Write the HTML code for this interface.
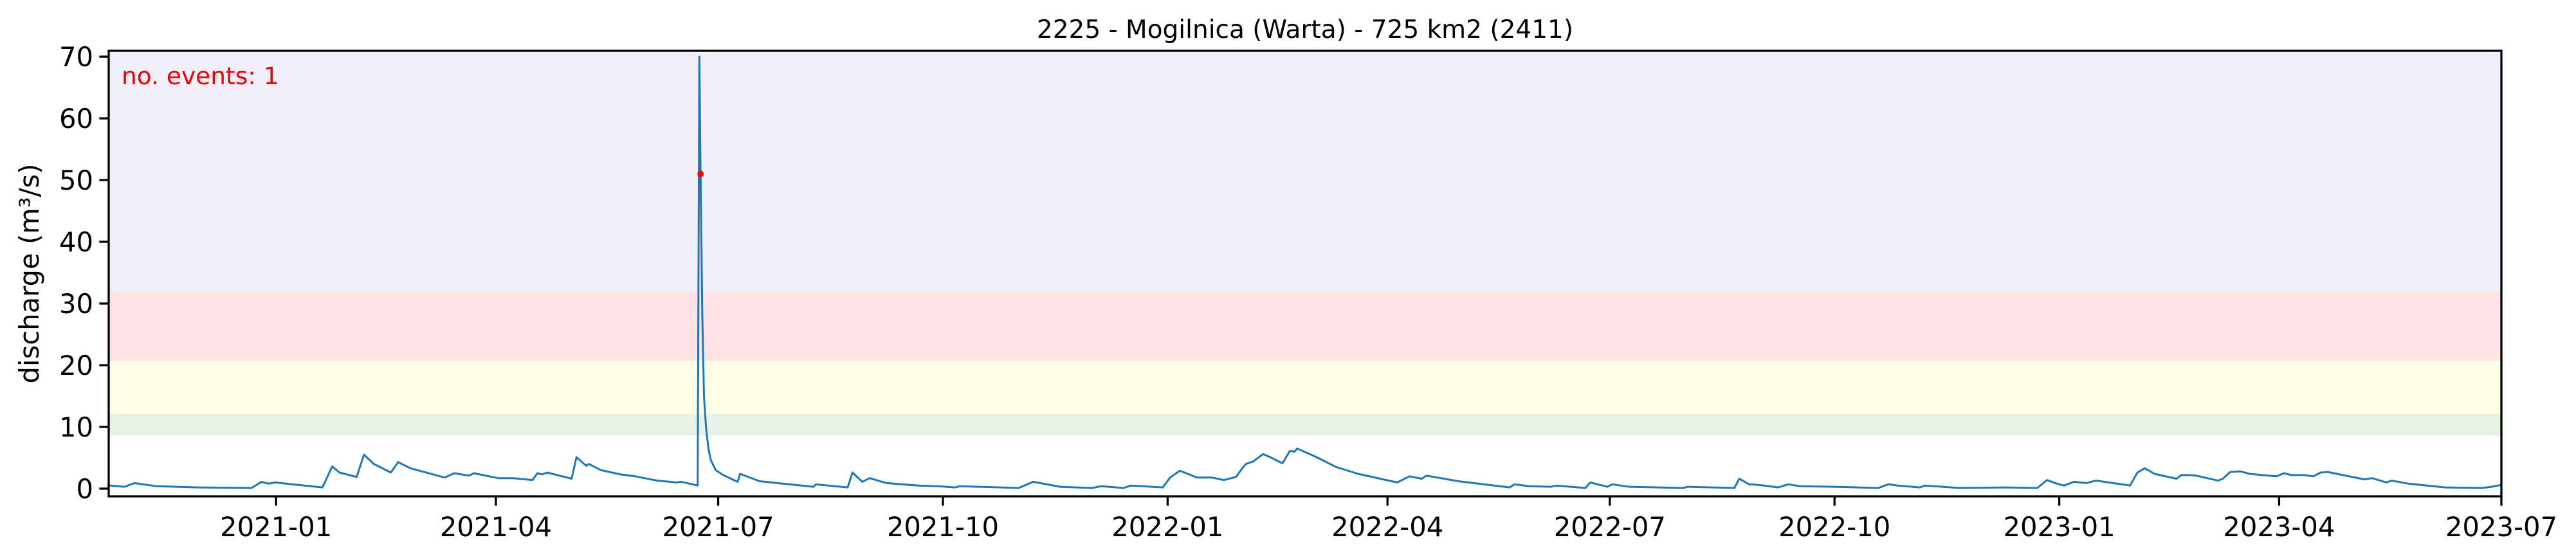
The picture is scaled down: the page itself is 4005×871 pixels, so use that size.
<!DOCTYPE html>
<html><head><meta charset="utf-8">
<style>
html,body{margin:0;padding:0;background:#fff;}
svg{display:block;font-family:"DejaVu Sans","Liberation Sans",sans-serif;}
</style></head>
<body>
<svg id="chart" width="4005" height="871" viewBox="0 0 4005 871" xmlns="http://www.w3.org/2000/svg"></svg>
<script>
// ---- data (days relative to 2021-01-01) ----
const days = [-69,-62,-58,-49,-32,-10,-6,-3,-0.5,19,23,26,33,36,40,47,50,55,69,73,79,81,91,97,105,107,109,111,121,123,127,128,133,141,147,156,164,166,172.6,173.3,173.8,174.5,175.2,176,177,178,180,183,189,190,198,220,221,234,236,240,243,250,263,271,278,280,304,310,321,334,338,347,350,363,366,370,377,383,388,393,395,397,400,404,407,412,415,417,418,426,434,443,459,464,469,471,484,505,507,513,522,524,536,538,545,547,554,576,578,597,599,603,607,615,619,624,638,656,660,664,673,675,679,689,708,721,725,729,732,736,741,745,759,762,765,769,778,780,783,786,795,797,800,804,808,813,819,822,825,830,834,837,840,846,855,858,864,866,873,888,903,907,911];
const discharge = [0.55,0.3,0.9,0.4,0.2,0.1,1.1,0.8,1.0,0.2,3.6,2.6,1.9,5.5,4.0,2.6,4.3,3.3,1.8,2.5,2.1,2.5,1.7,1.7,1.4,2.5,2.3,2.6,1.6,5.1,3.7,4.0,3.0,2.3,2.0,1.3,1.0,1.1,0.5,70,51,28,15,10,6.5,4.6,3.0,2.2,1.1,2.4,1.2,0.3,0.7,0.2,2.6,1.1,1.7,0.9,0.5,0.4,0.2,0.4,0.1,1.1,0.3,0.1,0.4,0.1,0.5,0.2,1.8,2.9,1.8,1.8,1.4,1.9,3.0,4.0,4.4,5.6,5.1,4.1,6.1,6.0,6.5,5.1,3.5,2.4,1.0,2.0,1.6,2.1,1.2,0.2,0.7,0.4,0.3,0.5,0.1,1.0,0.3,0.7,0.3,0.1,0.3,0.1,1.6,0.7,0.6,0.2,0.7,0.4,0.3,0.1,0.7,0.5,0.2,0.5,0.4,0.1,0.2,0.1,1.4,0.8,0.5,1.1,0.9,1.3,0.5,2.6,3.3,2.4,1.6,2.2,2.2,2.1,1.3,1.6,2.7,2.8,2.4,2.2,2.0,2.5,2.2,2.2,2.0,2.6,2.7,2.2,1.5,1.7,1.0,1.3,0.8,0.2,0.1,0.3,0.6];
const eventDays = [173.8];
const eventValues = [51];
const bandLows = [8.6, 12.1, 20.7, 32.0];
const bandHighs = [12.1, 20.7, 32.0, 80];
const bandColors = ["#e5f2e5","#fefee6","#fde3e5","#f1eff9"];
const bandNames = ["band-green","band-yellow","band-red","band-purple"];
const yTicks = [0,10,20,30,40,50,60,70];
const xTickDays = [0,90,181,273,365,455,546,638,730,820,911];
const xTickLabels = ["2021-01","2021-04","2021-07","2021-10","2022-01","2022-04","2022-07","2022-10","2023-01","2023-04","2023-07"];

// ---- layout ----
const L=169, R=3889, T=79, B=772;
const xMin=-68.5, xMax=911, yMin=-1.25, yMax=70.95;
const xs = d => L + (d - xMin)/(xMax - xMin)*(R-L);
const ys = v => B - (v - yMin)/(yMax - yMin)*(B-T);
const NS="http://www.w3.org/2000/svg";
const svg=document.getElementById('chart');
function mk(tag, attrs, parent){const e=document.createElementNS(NS,tag);for(const k in attrs)e.setAttribute(k,attrs[k]);(parent||svg).appendChild(e);return e;}

bandLows.forEach((lo,i)=>{
  const top=Math.max(ys(bandHighs[i]),T), bot=ys(lo);
  const r=mk('rect',{x:L,y:top,width:R-L,height:bot-top,fill:bandColors[i]});
  
  
});

let d='';
days.forEach((dd,i)=>{d+=(i?'L':'M')+xs(dd).toFixed(1)+','+ys(discharge[i]).toFixed(1);});
const line=mk('path',{d:d,fill:'none',stroke:'#1f77b4','stroke-width':3,'stroke-linejoin':'round'});



eventDays.forEach((ed,i)=>{
  const c=mk('circle',{cx:xs(ed),cy:ys(eventValues[i]),r:5,fill:'#ff0000'});
  
  
});

const fr=mk('rect',{x:L,y:T,width:R-L,height:B-T,fill:'none',stroke:'#000','stroke-width':3.3});



yTicks.forEach(v=>{
  const y=ys(v);
  const t=mk('line',{x1:L-14.6,x2:L,y1:y,y2:y,stroke:'#000','stroke-width':3.3});
  
  
  const tx=mk('text',{x:L-24,y:y+15,'text-anchor':'end','font-size':41.7,fill:'#000'});
  tx.textContent=v;
  
  
});
xTickDays.forEach((dd,i)=>{
  const x=xs(dd);
  const t=mk('line',{x1:x,x2:x,y1:B,y2:B+14.6,stroke:'#000','stroke-width':3.3});
  
  
  const tx=mk('text',{x:x,y:B+62,'text-anchor':'middle','font-size':41.7,fill:'#000'});
  tx.textContent=xTickLabels[i];
  
  
});

const title=mk('text',{x:(L+R)/2,y:59,'text-anchor':'middle','font-size':39,fill:'#000'});
title.textContent='2225 - Mogilnica (Warta) - 725 km2 (2411)';


const yl=mk('text',{x:0,y:0,'text-anchor':'middle','font-size':41.7,fill:'#000',transform:'translate(60,'+((T+B)/2)+') rotate(-90)'});
yl.textContent='discharge (m³/s)';


const ev=mk('text',{x:189,y:131,'font-size':37.5,fill:'#ee0000'});
ev.textContent='no. events: 1';


</script>
</body></html>
